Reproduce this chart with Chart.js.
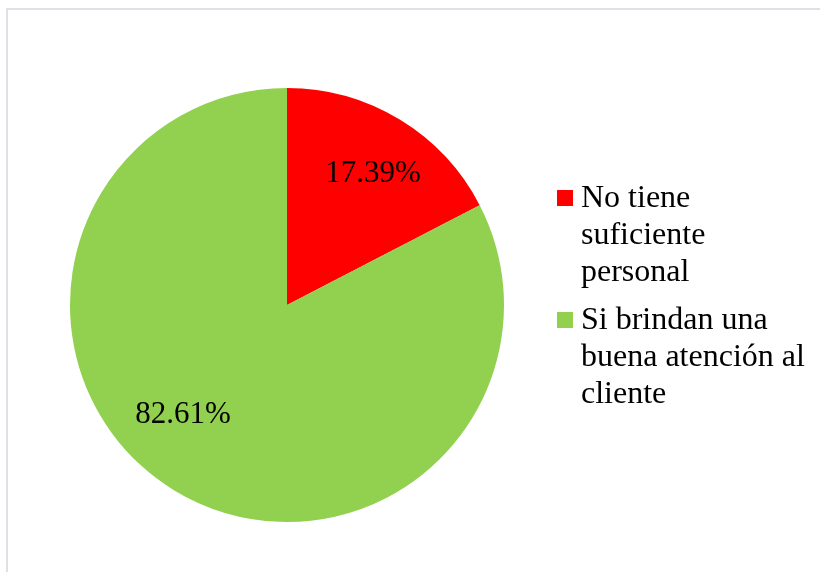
<!DOCTYPE html>
<html>
<head>
<meta charset="utf-8">
<script src="https://cdn.jsdelivr.net/npm/chart.js@4/dist/chart.umd.min.js"></script>
<style>
  html, body { margin: 0; padding: 0; background: #fff; overflow: hidden; }
  #frame {
    position: absolute; left: 6px; top: 8px; width: 840px; height: 600px;
    border-top: 2px solid #dee2e7; border-left: 2px solid #dee2e7;
    box-sizing: border-box;
  }
  #wrap { position: absolute; left: 0; top: 0; width: 820px; height: 572px; }
</style>
</head>
<body>
<div id="frame"></div>
<div id="wrap"><canvas id="chart" width="820" height="572"></canvas></div>
<script>
// Survey answers and their shares (%)
const categories = ['No tiene suficiente personal', 'Si brindan una buena atención al cliente'];
const shares = [17.39, 82.61];
const sliceColors = ['#FF0000', '#92D050'];

const FONT = '"Liberation Serif", "Times New Roman", serif';

// Percentage labels drawn inside each slice
const sliceLabels = {
  id: 'sliceLabels',
  afterDatasetsDraw(chart, args, opts) {
    const ctx = chart.ctx;
    const meta = chart.getDatasetMeta(0);
    ctx.save();
    ctx.font = opts.size + 'px ' + FONT;
    ctx.fillStyle = '#000';
    ctx.textAlign = 'center';
    ctx.textBaseline = 'middle';
    meta.data.forEach((arc, i) => {
      const p = arc.getProps(['x', 'y', 'startAngle', 'endAngle', 'outerRadius'], true);
      const place = opts.placement[i];
      const a = (p.startAngle + p.endAngle) / 2 + place.turn * Math.PI / 180;
      const r = p.outerRadius * place.r;
      const v = chart.data.datasets[0].data[i];
      ctx.fillText(v.toFixed(2) + '%', p.x + Math.cos(a) * r, p.y + Math.sin(a) * r);
    });
    ctx.restore();
  }
};

// Legend on the right with wrapped entries
const sideLegend = {
  id: 'sideLegend',
  afterDraw(chart, args, opts) {
    const ctx = chart.ctx;
    ctx.save();
    ctx.font = opts.size + 'px ' + FONT;
    ctx.textBaseline = 'alphabetic';
    ctx.textAlign = 'left';
    let y = opts.top;
    chart.data.labels.forEach((label, i) => {
      const words = label.split(' ');
      const lines = [];
      let cur = '';
      words.forEach(w => {
        const t = cur ? cur + ' ' + w : w;
        if (cur && ctx.measureText(t).width > opts.maxWidth) { lines.push(cur); cur = w; }
        else cur = t;
      });
      if (cur) lines.push(cur);
      ctx.fillStyle = chart.data.datasets[0].backgroundColor[i];
      ctx.fillRect(opts.boxX, y - opts.boxSize - 1, opts.boxSize, opts.boxSize);
      ctx.fillStyle = '#000';
      lines.forEach((ln, k) => {
        ctx.fillText(ln, opts.textX, y + k * opts.lineHeight);
      });
      y += (lines.length - 1) * opts.lineHeight + opts.rowGap;
    });
    ctx.restore();
  }
};

document.fonts.load('32px "Liberation Serif"').finally(() => {
  new Chart(document.getElementById('chart'), {
    type: 'pie',
    data: {
      labels: categories,
      datasets: [{
        data: shares,
        backgroundColor: sliceColors,
        borderWidth: 0,
        hoverOffset: 0
      }]
    },
    options: {
      responsive: false,
      animation: false,
      events: [],
      layout: { padding: { left: 70, right: 316, top: 88, bottom: 50 } },
      plugins: {
        legend: { display: false },
        tooltip: { enabled: false },
        sliceLabels: {
          size: 31,
          placement: [{ turn: 2, r: 0.723 }, { turn: 12, r: 0.698 }]
        },
        sideLegend: {
          size: 32, top: 207, lineHeight: 37, rowGap: 48,
          boxX: 557, boxSize: 16, textX: 581, maxWidth: 232
        }
      }
    },
    plugins: [sliceLabels, sideLegend]
  });
});
</script>
</body>
</html>
